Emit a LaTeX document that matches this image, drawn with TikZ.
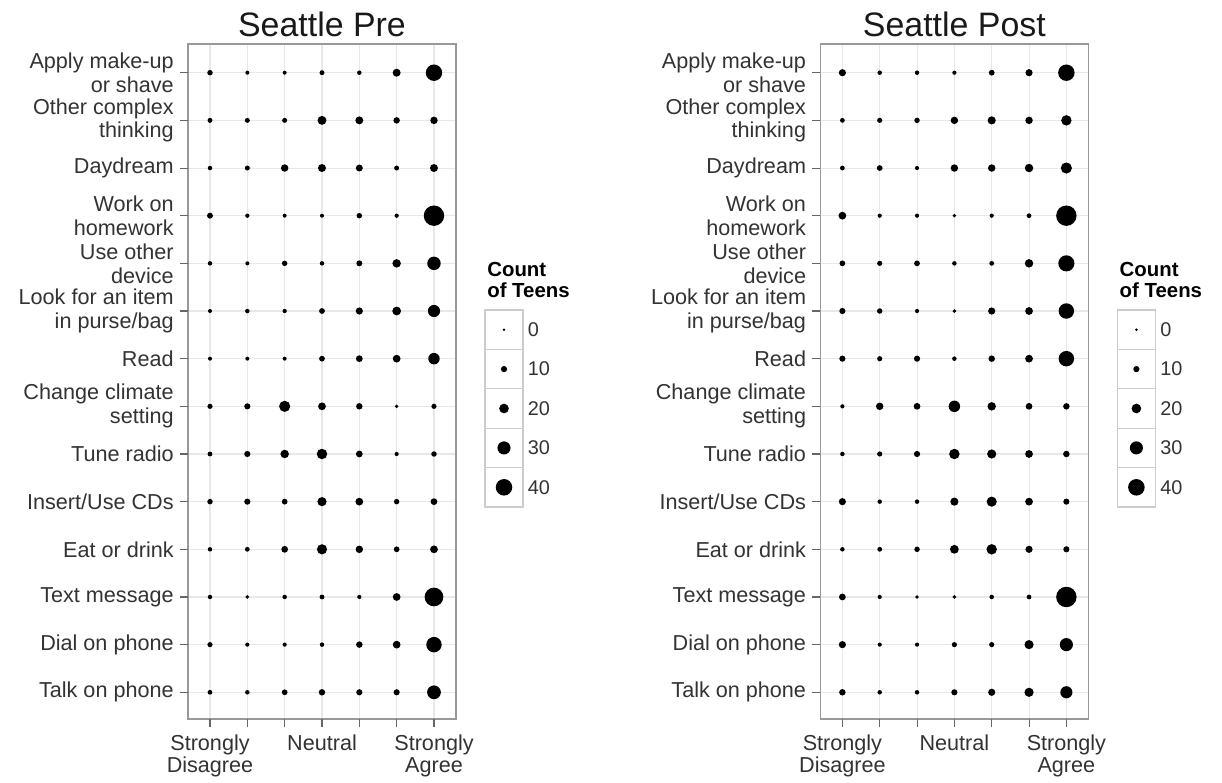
\documentclass[tikz,border=0pt]{standalone}
\usepackage{fontspec}
\setmainfont{Liberation Sans}
\usetikzlibrary{positioning}

\newcommand{\teenitems}{{Apply make-up\\or shave},{Other complex\\thinking},Daydream,{Work on\\homework},{Use other\\device},{Look for an item\\in purse/bag},Read,{Change climate\\setting},Tune radio,Insert/Use CDs,Eat or drink,Text message,Dial on phone,Talk on phone}

\begin{document}
\begin{tikzpicture}[x=0.02cm, y=-0.02cm,
        title/.style={anchor=base, font=\fontsize{19.3}{23}\selectfont, text=black!90},
        ylab/.style={anchor=east, align=right, inner sep=0pt, font=\fontsize{12.3}{13.6}\selectfont, text=black!80},
        xlab/.style={anchor=north, align=center, inner sep=0pt, font=\fontsize{12.3}{13}\selectfont, text=black!80},
        gridline/.style={black!9, line width=0.6pt},
        frame/.style={draw=black!40, line width=0.7pt},
        tick/.style={black!60, line width=0.6pt},
        dot/.style={radius=(#1+0.5)*0.2835pt},
        keybox/.style={draw=black!20, fill=white, line width=0.6pt, minimum width=0.76cm, minimum height=0.788cm, inner sep=0pt},
        keylab/.style={anchor=west, inner sep=0pt, font=\fontsize{11.3}{13}\selectfont, text=black!80},
        keytitle/.style={anchor=north west, align=left, inner sep=0pt, font=\bfseries\fontsize{11.6}{11.9}\selectfont}
    ]
        \fill[white] (0,0) rectangle (1222,782);
        \useasboundingbox (0,0) rectangle (1222,782);

        % Seattle Pre panel
        \node[title] (pre-title) at (322,36) {Seattle Pre};
        \foreach \i in {1,...,7}
            \draw[gridline] ({172.67+37.33*\i},44) -- ({172.67+37.33*\i},719);
        \foreach \j in {1,...,14}
            \draw[gridline] (188,{25.04+47.66*\j}) -- (456,{25.04+47.66*\j});
        \foreach \row [count=\j] in {{5,3.5,3.5,4.5,4,7.5,16},{4.5,4.5,4.5,8.5,7.5,6,7},{4,4.5,7,7.5,6.5,4.5,7.5},{5.5,3.8,3.5,3.5,5,3.8,20},{4,3.5,5,4,5.5,8,13},{3.5,4,3.8,5.3,6.7,8.3,11.7},{3.5,3.5,3.5,5.3,6.3,7.3,11},{4.7,5.7,10.7,7.3,6,3.3,4.7},{4.3,5.7,8,10,6.3,3.7,5},{5,5.7,5.3,8.7,7.3,5,6.3},{4,4.3,6.3,9.7,7,5.3,7.3},{4,3.3,4,4.3,3.7,7.3,18.3},{4.7,3.7,3.7,4,6,7.3,15},{4.3,4,5.3,6,5.7,5.7,13.3}}
            \foreach \d [count=\i] in \row
                \fill ({172.67+37.33*\i},{25.04+47.66*\j}) circle[dot=\d];
        \draw[frame] (188,44) rectangle (456,719);
        \foreach \lab [count=\j] in \teenitems {
            \draw[tick] (180,{25.04+47.66*\j}) -- (188,{25.04+47.66*\j});
            \node[ylab] (pre-lab-\j) at (174,{25.04+47.66*\j}) {\lab};
        }
        \foreach \i in {1,...,7}
            \draw[tick] ({172.67+37.33*\i},719) -- ({172.67+37.33*\i},727);
        \node[xlab] (pre-sd) at (210,734) {Strongly\\Disagree};
        \node[xlab] (pre-neu) at (322,734) {Neutral};
        \node[xlab] (pre-sa) at (434,734) {Strongly\\Agree};

        % Pre legend
        \node[keytitle] (pre-keytitle) at (487,262) {Count\\of Teens};
        \foreach \c [count=\k] in {0,10,20,30,40} {
            \node[keybox] (pre-key-\k) at (504,{290.3+39.4*\k}) {};
            \fill (pre-key-\k) circle[dot={2.3+0.345*\c}];
            \node[keylab, right=0.08cm of pre-key-\k] (pre-keylab-\k) {\c};
        }

        % Seattle Post panel
        \begin{scope}[xshift=12.65cm]
        \node[title] (post-title) at (322,36) {Seattle Post};
        \foreach \i in {1,...,7}
            \draw[gridline] ({172.67+37.33*\i},44) -- ({172.67+37.33*\i},719);
        \foreach \j in {1,...,14}
            \draw[gridline] (188,{25.04+47.66*\j}) -- (456,{25.04+47.66*\j});
        \foreach \row [count=\j] in {{6.7,4,4,3.7,5.3,6.7,16},{4.3,4.7,5,7,7.7,7,10},{4.3,5.3,3.7,7,7,8,10.7},{7.3,3.7,3.7,3.3,3.7,4.3,20},{5.3,4.7,5.3,4,4.3,8,15.7},{5.7,5,3.7,3.3,6.7,7.3,15},{5.7,4.7,5.7,4,6,7.3,15},{3.7,7,6.3,11,8,6.3,6},{4,4.7,5.7,10,8.7,7.3,6},{6.7,4,4,7.7,9.7,7.3,5.7},{4,4.3,5,8.3,10,6.7,5.7},{6.3,3.7,3.3,3.3,4,4.3,20},{6.7,3.7,3.7,4.7,4.7,8.7,12.7},{6,4,4,5.7,6.7,8.7,11.7}}
            \foreach \d [count=\i] in \row
                \fill ({172.67+37.33*\i},{25.04+47.66*\j}) circle[dot=\d];
        \draw[frame] (188,44) rectangle (456,719);
        \foreach \lab [count=\j] in \teenitems {
            \draw[tick] (180,{25.04+47.66*\j}) -- (188,{25.04+47.66*\j});
            \node[ylab] (post-lab-\j) at (174,{25.04+47.66*\j}) {\lab};
        }
        \foreach \i in {1,...,7}
            \draw[tick] ({172.67+37.33*\i},719) -- ({172.67+37.33*\i},727);
        \node[xlab] (post-sd) at (210,734) {Strongly\\Disagree};
        \node[xlab] (post-neu) at (322,734) {Neutral};
        \node[xlab] (post-sa) at (434,734) {Strongly\\Agree};

        % Post legend
        \node[keytitle] (post-keytitle) at (487,262) {Count\\of Teens};
        \foreach \c [count=\k] in {0,10,20,30,40} {
            \node[keybox] (post-key-\k) at (504,{290.3+39.4*\k}) {};
            \fill (post-key-\k) circle[dot={2.3+0.345*\c}];
            \node[keylab, right=0.08cm of post-key-\k] (post-keylab-\k) {\c};
        }
        \end{scope}
    \end{tikzpicture}
\end{document}
